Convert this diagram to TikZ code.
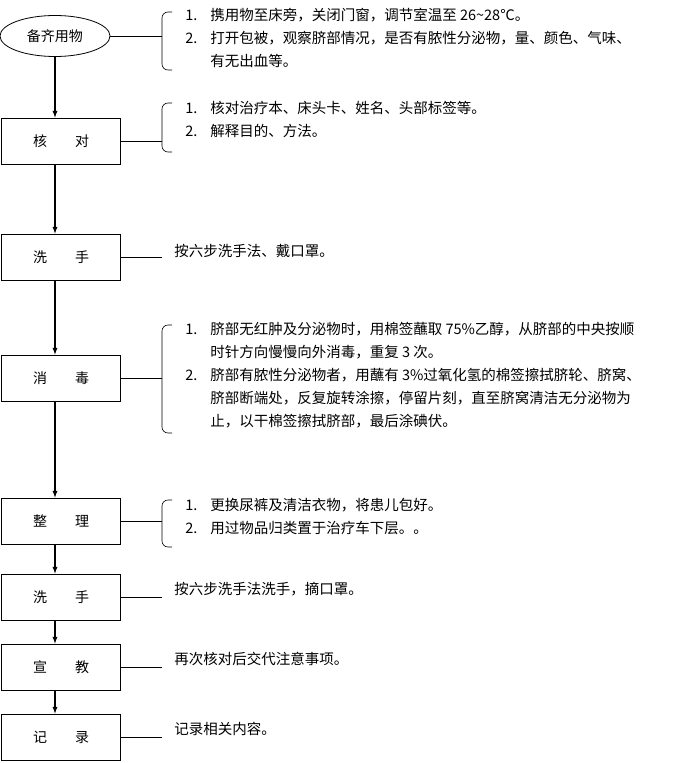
\documentclass[tikz,border=0pt]{standalone}
\usepackage{fontspec}
\setmainfont{Liberation Serif}
\newfontfamily\cjk{Noto Sans CJK SC}
\usetikzlibrary{positioning,shapes.geometric}
\tikzset{stepbox/.style = {draw, thick, minimum width=119pt, minimum height=46pt, font=\cjk\fontsize{14}{16}\selectfont}}
\tikzset{note/.style = {anchor=north west, align=left, inner sep=0pt, font=\cjk\fontsize{14.5}{23}\selectfont}}
\newcommand{\itm}[1]{\makebox[25pt][l]{#1.}}
\newcommand{\bracket}[3]{\draw[semithick, rounded corners=6pt] (172,#1) -- (162,#1) -- (162,#2) -- (172,#2); \coordinate (#3) at (162,0);}

\begin{document}
\begin{tikzpicture}[x=1pt, y=-1pt, >=latex, semithick]
  \useasboundingbox (0,0) rectangle (677,763);
  \node [draw, thick, ellipse, minimum width=110pt, minimum height=41pt, font=\cjk\fontsize{14}{16}\selectfont] (prep) at (55,36) {备齐用物};
  \node [stepbox] (check) at (61,141) {核\qquad 对};
  \node [stepbox] (wash) at (61,257) {洗\qquad 手};
  \node [stepbox] (disinfect) at (61,378) {消\qquad 毒};
  \node [stepbox] (tidy) at (61,521) {整\qquad 理};
  \node [stepbox] (wash2) at (61,597) {洗\qquad 手};
  \node [stepbox] (teach) at (61,667) {宣\qquad 教};
  \node [stepbox] (record) at (61,737) {记\qquad 录};

  \path[->, line width=1.3pt] (prep) edge (prep |- check.north)
    (check.south -| prep) edge (prep |- wash.north)
    (wash.south -| prep) edge (prep |- disinfect.north)
    (disinfect.south -| prep) edge (prep |- tidy.north)
    (tidy.south -| prep) edge (prep |- wash2.north)
    (wash2.south -| prep) edge (prep |- teach.north)
    (teach.south -| prep) edge (prep |- record.north);

  % brackets
  \bracket{12}{70}{b1}
  \bracket{103}{152}{b2}
  \bracket{325}{433}{b3}
  \bracket{500}{547}{b4}
  \coordinate (b5) at (162,0);
  \draw (prep) -- (b1 |- prep);
  \draw (check) -- (b2 |- check);
  \draw (disinfect) -- (b3 |- disinfect);
  \draw (tidy) -- (b4 |- tidy);
  \draw (wash.east) -- (b5 |- wash.east);
  \draw (wash2.east) -- (b5 |- wash2.east);
  \draw (teach.east) -- (b5 |- teach.east);
  \draw (record.east) -- (b5 |- record.east);

  \node [note] (t1) at (185,8) {\itm{1}携用物至床旁，关闭门窗，调节室温至 26\textasciitilde 28℃。\\
    \itm{2}打开包被，观察脐部情况，是否有脓性分泌物，量、颜色、气味、\\
    \hspace*{25pt}有无出血等。};
  \node [note] (t2) at (185,101) {\itm{1}核对治疗本、床头卡、姓名、头部标签等。\\
    \itm{2}解释目的、方法。};
  \node [note] (t3) at (174,244) {按六步洗手法、戴口罩。};
  \node [note] (t4) at (185,322) {\itm{1}脐部无红肿及分泌物时，用棉签蘸取 75\%乙醇，从脐部的中央按顺\\
    \hspace*{25pt}时针方向慢慢向外消毒，重复 3 次。\\
    \itm{2}脐部有脓性分泌物者，用蘸有 3\%过氧化氢的棉签擦拭脐轮、脐窝、\\
    \hspace*{25pt}脐部断端处，反复旋转涂擦，停留片刻，直至脐窝清洁无分泌物为\\
    \hspace*{25pt}止，以干棉签擦拭脐部，最后涂碘伏。};
  \node [note] (t5) at (185,498) {\itm{1}更换尿裤及清洁衣物，将患儿包好。\\
    \itm{2}用过物品归类置于治疗车下层。。};
  \node [note] (t6) at (174,582) {按六步洗手法洗手，摘口罩。};
  \node [note] (t7) at (174,652) {再次核对后交代注意事项。};
  \node [note] (t8) at (174,722) {记录相关内容。};
\end{tikzpicture}
\end{document}
